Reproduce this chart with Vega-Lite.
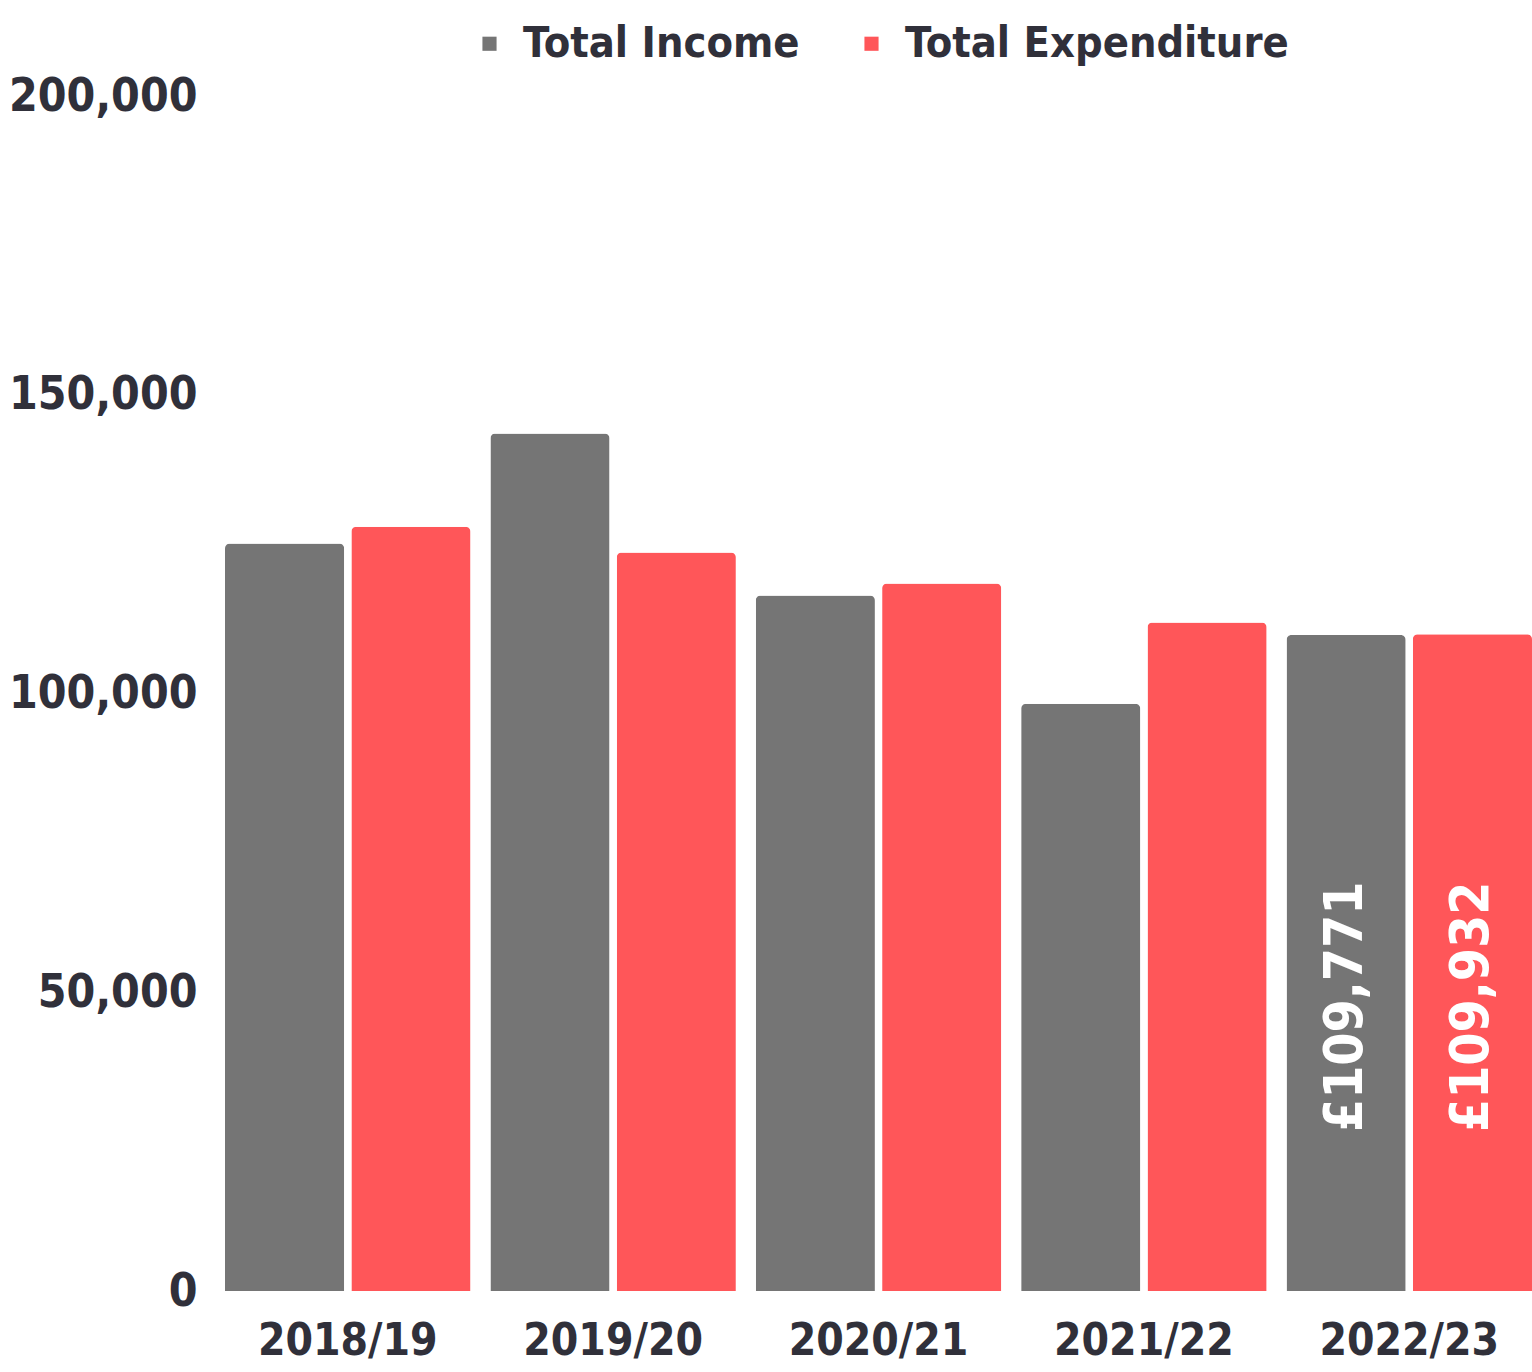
{
  "$schema": "https://vega.github.io/schema/vega-lite/v6.json",
  "width": 1532,
  "height": 1372,
  "autosize": {"type": "fit", "contains": "padding"},
  "padding": {"left": 8, "top": 22, "right": 0, "bottom": 9},
  "background": "#ffffff",
  "data": {
    "values": [
      {"year": "2018/19", "series": "Total Income", "value": 125100},
      {"year": "2018/19", "series": "Total Expenditure", "value": 127900},
      {"year": "2019/20", "series": "Total Income", "value": 143500},
      {"year": "2019/20", "series": "Total Expenditure", "value": 123600},
      {"year": "2020/21", "series": "Total Income", "value": 116400},
      {"year": "2020/21", "series": "Total Expenditure", "value": 118400},
      {"year": "2021/22", "series": "Total Income", "value": 98300},
      {"year": "2021/22", "series": "Total Expenditure", "value": 111900},
      {"year": "2022/23", "series": "Total Income", "value": 109771},
      {"year": "2022/23", "series": "Total Expenditure", "value": 109932}
    ]
  },
  "encoding": {
    "x": {
      "field": "year", "type": "nominal", "title": null,
      "scale": {"paddingInner": 0.075, "paddingOuter": 0},
      "axis": {"labelAngle": 0, "domain": false, "ticks": false, "labelPadding": 28, "labelFontSize": 44, "labelLimit": 0}
    },
    "xOffset": {
      "field": "series", "type": "nominal",
      "sort": ["Total Income", "Total Expenditure"],
      "scale": {"paddingInner": 0.057, "paddingOuter": 0}
    }
  },
  "layer": [
    {
      "mark": {"type": "bar", "cornerRadiusTopLeft": 5, "cornerRadiusTopRight": 5},
      "encoding": {
        "y": {
          "field": "value", "type": "quantitative", "title": null,
          "scale": {"domain": [0, 200000]},
          "axis": {"values": [0, 50000, 100000, 150000, 200000], "format": ",d", "domain": false, "ticks": false, "grid": false, "labelPadding": 28, "labelFontSize": 46, "labelLimit": 0}
        },
        "color": {
          "field": "series", "type": "nominal", "title": null,
          "sort": ["Total Income", "Total Expenditure"],
          "scale": {"domain": ["Total Income", "Total Expenditure"], "range": ["#757575", "#ff5659"]},
          "legend": {"orient": "top", "direction": "horizontal", "symbolType": "square", "symbolSize": 200, "labelFontSize": 43, "labelLimit": 0, "columnPadding": 50, "symbolOffset": 0, "labelOffset": 12, "offset": 30}
        }
      }
    },
    {
      "transform": [{"filter": "datum.year === '2022/23'"}],
      "mark": {"type": "text", "angle": 270, "align": "left", "baseline": "middle", "dx": 159, "fontSize": 53, "color": "#ffffff", "font": "DejaVu Sans Condensed", "fontWeight": "bold"},
      "encoding": {
        "y": {"datum": 0, "type": "quantitative"},
        "text": {"field": "value", "type": "quantitative", "format": "$,d"}
      }
    }
  ],
  "config": {
    "locale": {"number": {"decimal": ".", "thousands": ",", "grouping": [3], "currency": ["£", ""]}},
    "view": {"stroke": null},
    "font": "DejaVu Sans Condensed",
    "axis": {"labelFont": "DejaVu Sans Condensed", "labelFontWeight": "bold", "labelColor": "#30303a"},
    "legend": {"labelFont": "DejaVu Sans Condensed", "labelFontWeight": "bold", "labelColor": "#30303a", "layout": {"top": {"anchor": "middle"}}}
  }
}
